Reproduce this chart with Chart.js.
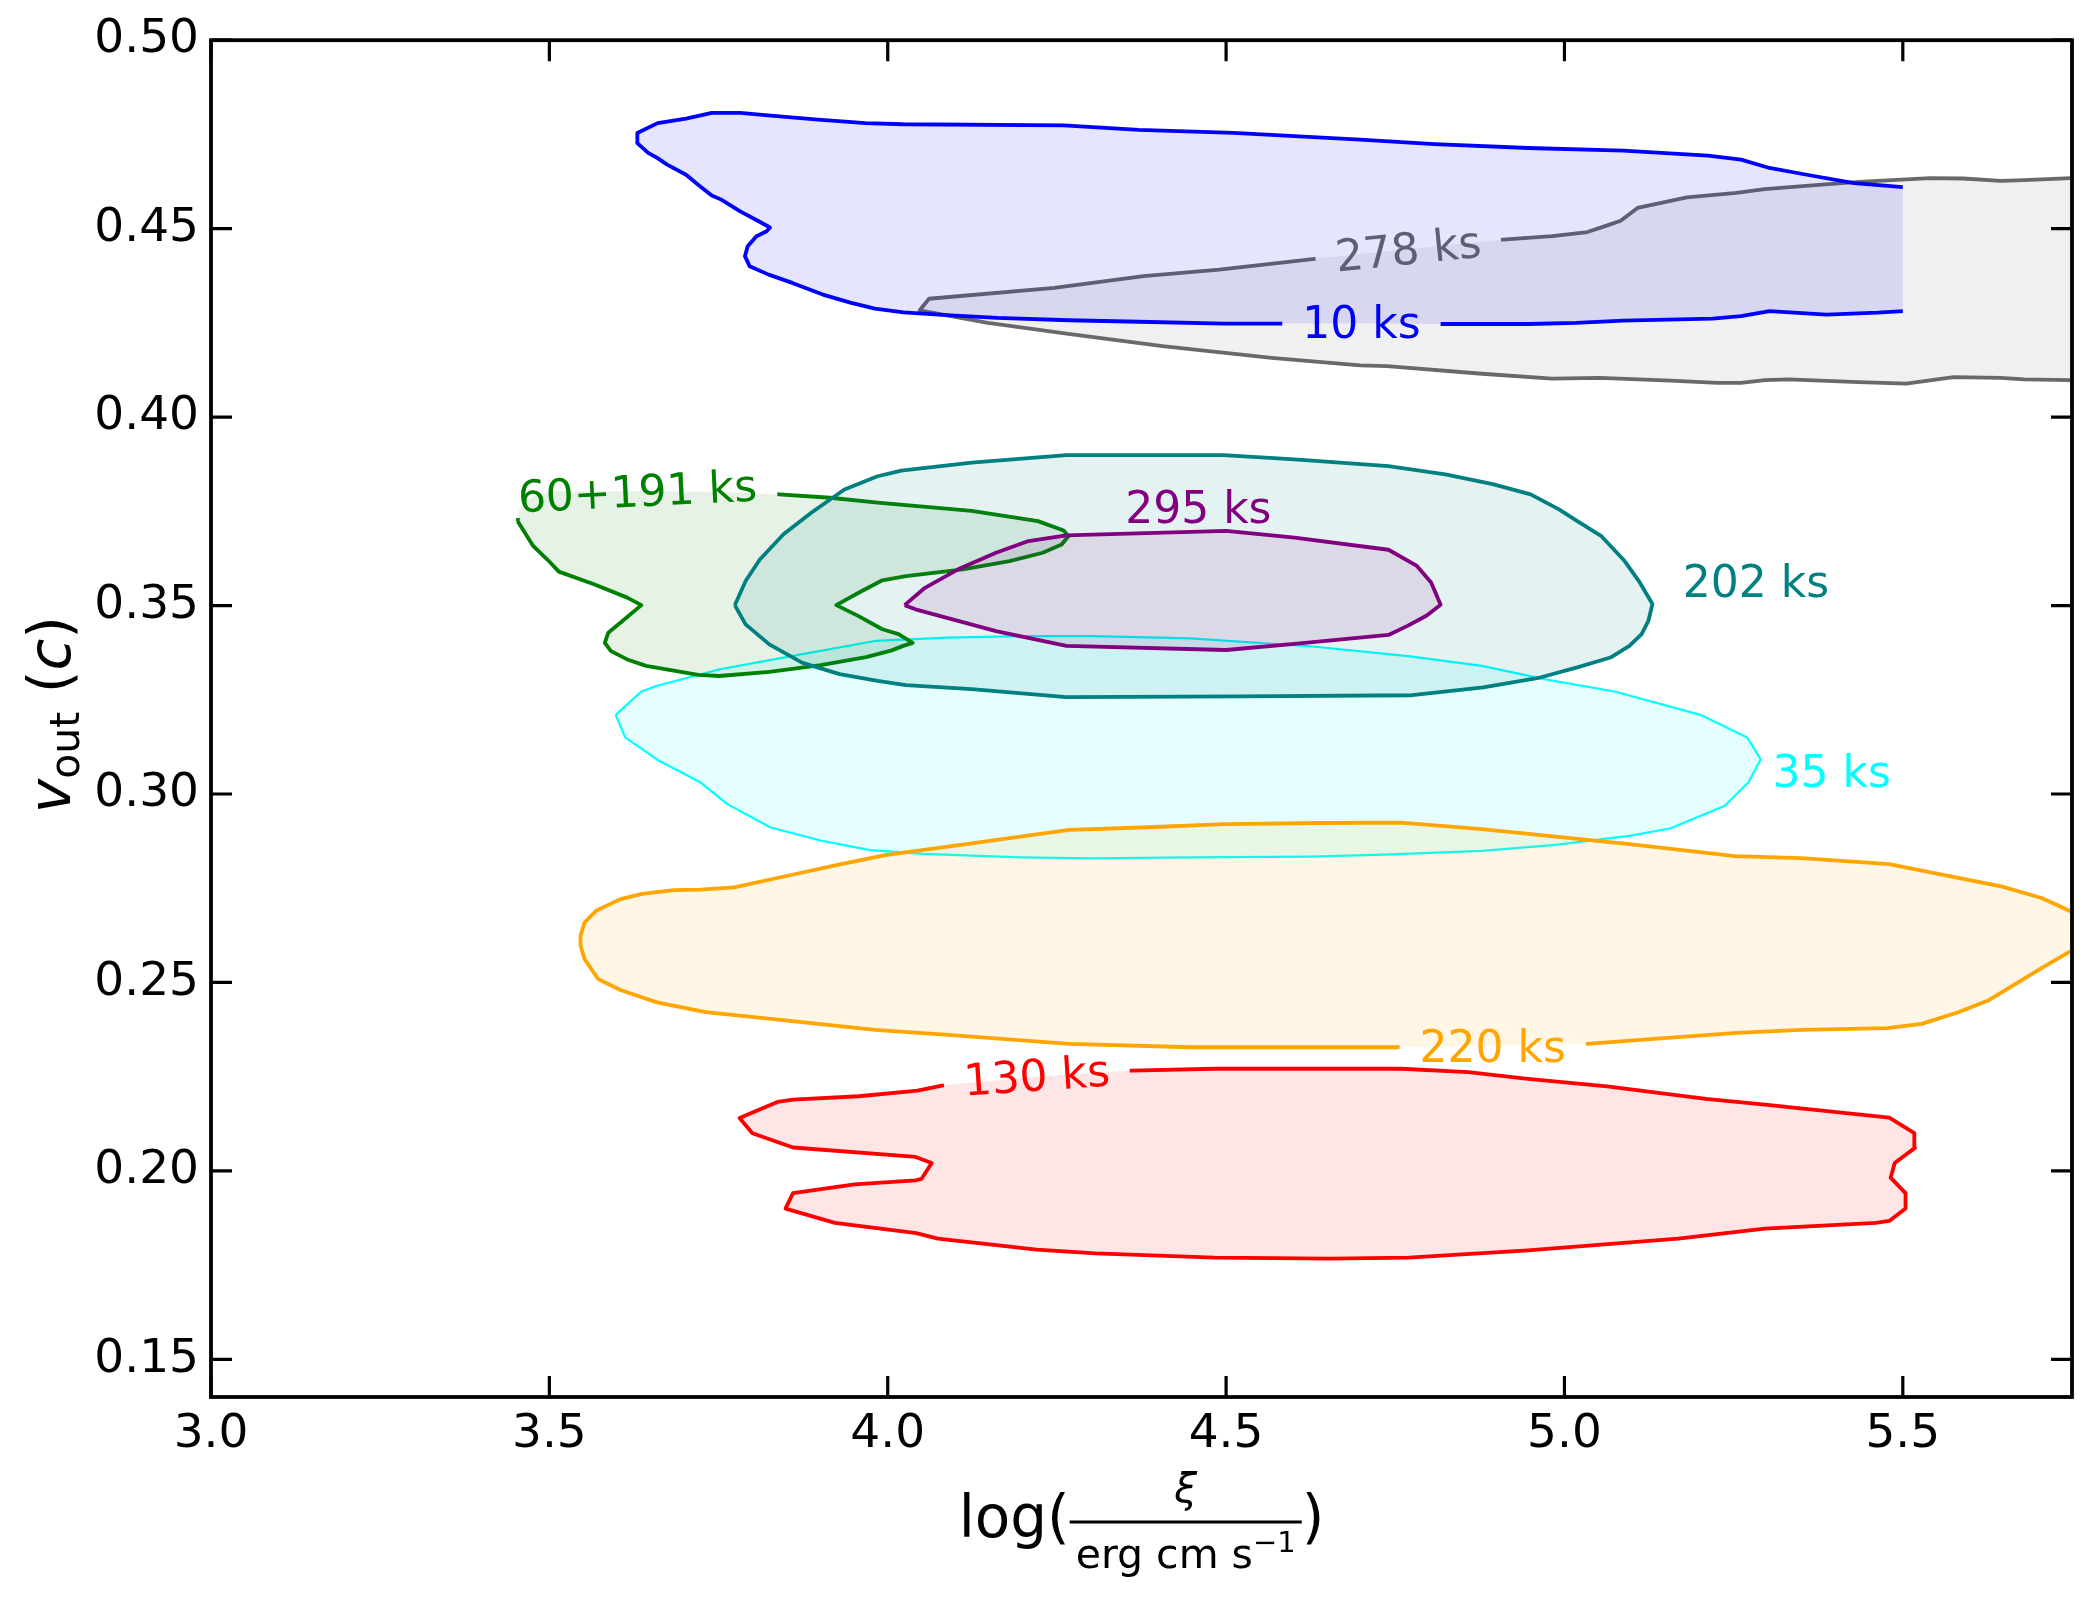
<!DOCTYPE html>
<html>
<head>
<meta charset="utf-8">
<script src="https://cdn.jsdelivr.net/npm/chart.js@4.4.1/dist/chart.umd.min.js"></script>
<style>
  html, body { margin: 0; padding: 0; background: #fff; overflow: hidden; }
  #wrap { width: 2092px; height: 1599px; }
</style>
</head>
<body>
<div id="wrap"><canvas id="contours"></canvas></div>
<script>
// axis ticks
const xTicks = [3.0, 3.5, 4.0, 4.5, 5.0, 5.5];
const yTicks = [0.15, 0.20, 0.25, 0.30, 0.35, 0.40, 0.45, 0.50];

// contour outlines, [log xi, v_out]
const ks278 = [[5.748,0.4634],[5.679,0.4629],[5.645,0.4627],[5.589,0.4633],[5.540,0.4634],[5.435,0.4624],[5.366,0.4615],[5.296,0.4605],[5.254,0.4595],[5.181,0.4583],[5.108,0.4555],[5.083,0.4521],[5.059,0.4506],[5.034,0.4491],[4.982,0.4480],[4.909,0.4471],[4.770,0.4446],[4.631,0.4420],[4.490,0.4391],[4.378,0.4374],[4.246,0.4343],[4.061,0.4314],[4.047,0.4283],[4.148,0.4250],[4.267,0.4221],[4.406,0.4188],[4.567,0.4157],[4.698,0.4137],[4.738,0.4135],[4.878,0.4115],[4.982,0.4102],[5.052,0.4104],[5.157,0.4097],[5.226,0.4091],[5.261,0.4091],[5.296,0.4098],[5.331,0.4100],[5.435,0.4093],[5.505,0.4089],[5.575,0.4106],[5.645,0.4104],[5.679,0.4100],[5.748,0.4098]];

const ks10 = [[5.500,0.4281],[5.463,0.4277],[5.387,0.4272],[5.303,0.4281],[5.261,0.4268],[5.219,0.4261],[5.087,0.4256],[5.017,0.4250],[4.947,0.4247],[4.822,0.4247],[4.700,0.4248],[4.580,0.4248],[4.497,0.4248],[4.371,0.4253],[4.267,0.4257],[4.162,0.4263],[4.093,0.4270],[4.023,0.4278],[3.981,0.4288],[3.946,0.4303],[3.904,0.4325],[3.859,0.4356],[3.824,0.4378],[3.796,0.4400],[3.789,0.4427],[3.793,0.4453],[3.806,0.4480],[3.821,0.4493],[3.826,0.4503],[3.810,0.4519],[3.782,0.4546],[3.754,0.4577],[3.740,0.4588],[3.723,0.4612],[3.702,0.4643],[3.674,0.4670],[3.660,0.4687],[3.646,0.4701],[3.630,0.4727],[3.630,0.4754],[3.660,0.4780],[3.702,0.4792],[3.740,0.4807],[3.782,0.4807],[3.827,0.4800],[3.897,0.4789],[3.967,0.4780],[4.023,0.4777],[4.260,0.4774],[4.371,0.4762],[4.511,0.4754],[4.698,0.4736],[4.808,0.4724],[4.947,0.4714],[5.087,0.4707],[5.212,0.4694],[5.261,0.4683],[5.303,0.4661],[5.352,0.4645],[5.428,0.4621],[5.500,0.4610]];

const ks35 = [[3.598,0.3210],[3.636,0.3272],[3.659,0.3287],[3.752,0.3331],[3.874,0.3371],[3.981,0.3406],[4.089,0.3415],[4.196,0.3419],[4.304,0.3419],[4.447,0.3413],[4.624,0.3392],[4.769,0.3366],[4.878,0.3340],[4.972,0.3304],[5.074,0.3272],[5.201,0.3210],[5.270,0.3150],[5.290,0.3092],[5.272,0.3031],[5.237,0.2969],[5.157,0.2909],[5.096,0.2889],[4.987,0.2865],[4.878,0.2849],[4.733,0.2839],[4.624,0.2834],[4.447,0.2832],[4.304,0.2829],[4.196,0.2832],[4.053,0.2841],[3.974,0.2851],[3.902,0.2876],[3.827,0.2911],[3.763,0.2973],[3.723,0.3031],[3.662,0.3088],[3.612,0.3150],[3.598,0.3210]];

const ks60191 = [[3.453,0.3724],[3.456,0.3759],[3.476,0.3790],[3.511,0.3803],[3.636,0.3803],[3.741,0.3802],[3.828,0.3796],[3.915,0.3786],[3.985,0.3773],[4.124,0.3751],[4.222,0.3724],[4.260,0.3699],[4.267,0.3684],[4.257,0.3662],[4.229,0.3640],[4.180,0.3618],[4.111,0.3596],[4.027,0.3578],[3.992,0.3567],[3.957,0.3534],[3.924,0.3501],[3.957,0.3472],[3.992,0.3437],[4.016,0.3424],[4.037,0.3401],[4.023,0.3393],[4.006,0.3381],[3.968,0.3363],[3.901,0.3342],[3.825,0.3324],[3.751,0.3313],[3.720,0.3316],[3.643,0.3340],[3.615,0.3357],[3.591,0.3379],[3.582,0.3401],[3.587,0.3428],[3.608,0.3459],[3.636,0.3501],[3.615,0.3521],[3.567,0.3556],[3.514,0.3590],[3.497,0.3622],[3.476,0.3658],[3.453,0.3724]];

const ks202 = [[3.774,0.3501],[3.790,0.3565],[3.811,0.3622],[3.846,0.3689],[3.887,0.3746],[3.936,0.3808],[3.985,0.3843],[4.020,0.3858],[4.124,0.3879],[4.264,0.3899],[4.496,0.3899],[4.601,0.3888],[4.740,0.3870],[4.824,0.3848],[4.894,0.3822],[4.950,0.3795],[4.992,0.3755],[5.019,0.3724],[5.054,0.3685],[5.089,0.3618],[5.110,0.3565],[5.130,0.3504],[5.124,0.3459],[5.114,0.3424],[5.096,0.3393],[5.068,0.3362],[5.019,0.3336],[4.964,0.3309],[4.880,0.3283],[4.775,0.3262],[4.521,0.3259],[4.264,0.3257],[4.124,0.3278],[4.027,0.3289],[3.985,0.3300],[3.929,0.3318],[3.874,0.3348],[3.825,0.3397],[3.790,0.3450],[3.774,0.3501]];

const ks295 = [[4.025,0.3501],[4.055,0.3547],[4.104,0.3596],[4.160,0.3640],[4.208,0.3671],[4.264,0.3686],[4.500,0.3698],[4.601,0.3680],[4.740,0.3648],[4.782,0.3605],[4.803,0.3561],[4.817,0.3502],[4.796,0.3473],[4.768,0.3446],[4.740,0.3422],[4.601,0.3398],[4.500,0.3382],[4.264,0.3393],[4.160,0.3432],[4.041,0.3490],[4.025,0.3501]];

const ks220 = [[5.748,0.2689],[5.705,0.2724],[5.647,0.2754],[5.567,0.2783],[5.480,0.2814],[5.350,0.2830],[5.252,0.2835],[5.096,0.2867],[4.987,0.2887],[4.878,0.2907],[4.758,0.2924],[4.639,0.2923],[4.497,0.2920],[4.375,0.2911],[4.268,0.2905],[4.124,0.2869],[3.996,0.2838],[3.924,0.2811],[3.852,0.2783],[3.773,0.2752],[3.723,0.2746],[3.684,0.2745],[3.637,0.2735],[3.605,0.2721],[3.569,0.2690],[3.552,0.2659],[3.546,0.2624],[3.546,0.2598],[3.552,0.2562],[3.572,0.2509],[3.605,0.2480],[3.659,0.2447],[3.731,0.2421],[3.838,0.2401],[3.981,0.2374],[4.089,0.2361],[4.268,0.2337],[4.447,0.2328],[4.639,0.2328],[4.755,0.2328],[4.894,0.2332],[5.034,0.2337],[5.132,0.2350],[5.255,0.2366],[5.350,0.2374],[5.477,0.2379],[5.528,0.2390],[5.582,0.2421],[5.626,0.2452],[5.705,0.2538],[5.748,0.2583]];

const ks130 = [[4.082,0.2227],[4.044,0.2213],[3.957,0.2198],[3.860,0.2189],[3.837,0.2183],[3.781,0.2140],[3.800,0.2100],[3.860,0.2062],[4.041,0.2037],[4.065,0.2021],[4.050,0.1979],[4.041,0.1975],[3.951,0.1964],[3.860,0.1941],[3.849,0.1900],[3.922,0.1862],[4.042,0.1835],[4.074,0.1820],[4.220,0.1791],[4.307,0.1781],[4.483,0.1770],[4.654,0.1767],[4.770,0.1770],[4.946,0.1789],[5.168,0.1820],[5.296,0.1847],[5.460,0.1862],[5.480,0.1867],[5.504,0.1900],[5.504,0.1941],[5.482,0.1982],[5.488,0.2021],[5.518,0.2061],[5.517,0.2100],[5.480,0.2141],[5.296,0.2176],[5.209,0.2191],[5.063,0.2224],[4.946,0.2244],[4.858,0.2262],[4.759,0.2271],[4.654,0.2271],[4.483,0.2271],[4.360,0.2266],[4.220,0.2250],[4.082,0.2227]];

// drawing order: first one at the bottom
const contours = [
  { points: ks278,   color: '#696969', fill: 'rgba(105,105,105,0.1)', width: 3.8,
    label: { text: '278 ks', x: 4.769, y: 0.4449, rot: -5.8, inline: true } },
  { points: ks10,    color: '#0000ff', fill: 'rgba(0,0,255,0.1)', width: 3.8,
    label: { text: '10 ks', x: 4.700, y: 0.4254, rot: 0, inline: true } },
  { points: ks35,    color: '#00ffff', fill: 'rgba(0,255,255,0.1)', width: 2.2,
    label: { text: '35 ks', x: 5.395, y: 0.3062, rot: 0, inline: false } },
  { points: ks60191, color: '#008000', fill: 'rgba(0,128,0,0.1)', width: 3.8,
    label: { text: '60+191 ks', x: 3.630, y: 0.3806, rot: -2.8, inline: true } },
  { points: ks202,   color: '#008080', fill: 'rgba(0,128,128,0.1)', width: 3.8,
    label: { text: '202 ks', x: 5.283, y: 0.3566, rot: 0, inline: false } },
  { points: ks295,   color: '#800080', fill: 'rgba(128,0,128,0.1)', width: 3.8,
    label: { text: '295 ks', x: 4.459, y: 0.3762, rot: 0, inline: false } },
  { points: ks220,   color: '#ffa500', fill: 'rgba(255,165,0,0.1)', width: 3.8,
    label: { text: '220 ks', x: 4.894, y: 0.2333, rot: 0, inline: true } },
  { points: ks130,   color: '#ff0000', fill: 'rgba(255,0,0,0.1)', width: 3.8,
    label: { text: '130 ks', x: 4.220, y: 0.2256, rot: -4, inline: true } },
];

const FONT = '"DejaVu Sans", sans-serif';
const LABEL_SIZE = 44;

function labelGeom(chart, lab) {
  const ctx = chart.ctx;
  ctx.save();
  ctx.font = LABEL_SIZE + 'px ' + FONT;
  const w = ctx.measureText(lab.text).width;
  ctx.restore();
  return {
    cx: chart.scales.x.getPixelForValue(lab.x),
    cy: chart.scales.y.getPixelForValue(lab.y),
    w: w,
    rot: lab.rot * Math.PI / 180
  };
}

// cut the contour line where its label sits, then write the label
const contourLabels = {
  id: 'contourLabels',
  beforeDatasetDraw(chart, args) {
    const ctx = chart.ctx;
    const c = contours[args.index];
    ctx.save();
    if (!c.label.inline) return;
    const g = labelGeom(chart, c.label);
    const hw = g.w / 2 + 20, hh = 22;
    const cos = Math.cos(g.rot), sin = Math.sin(g.rot);
    ctx.beginPath();
    ctx.rect(0, 0, chart.width, chart.height);
    [[-hw, -hh], [hw, -hh], [hw, hh], [-hw, hh]].forEach(([dx, dy], i) => {
      const px = g.cx + dx * cos - dy * sin;
      const py = g.cy + dx * sin + dy * cos;
      if (i === 0) ctx.moveTo(px, py); else ctx.lineTo(px, py);
    });
    ctx.closePath();
    ctx.clip('evenodd');
  },
  afterDatasetDraw(chart, args) {
    const ctx = chart.ctx;
    ctx.restore();
    const c = contours[args.index];
    const g = labelGeom(chart, c.label);
    ctx.save();
    ctx.translate(g.cx, g.cy);
    ctx.rotate(g.rot);
    ctx.font = LABEL_SIZE + 'px ' + FONT;
    ctx.fillStyle = c.color;
    ctx.textAlign = 'center';
    ctx.textBaseline = 'alphabetic';
    ctx.fillText(c.label.text, 0, 0.37 * LABEL_SIZE);
    ctx.restore();
  }
};

// box, inward ticks on all four sides, axis titles
const frameAndTitles = {
  id: 'frameAndTitles',
  afterDatasetsDraw(chart) {
    const ctx = chart.ctx;
    const a = chart.chartArea;
    const xs = chart.scales.x, ys = chart.scales.y;
    const tl = 21;
    ctx.save();
    ctx.strokeStyle = '#000';
    ctx.lineWidth = 3.2;
    ctx.beginPath();
    xTicks.forEach(v => {
      const px = xs.getPixelForValue(v);
      ctx.moveTo(px, a.bottom); ctx.lineTo(px, a.bottom - tl);
      ctx.moveTo(px, a.top); ctx.lineTo(px, a.top + tl);
    });
    yTicks.forEach(v => {
      const py = ys.getPixelForValue(v);
      ctx.moveTo(a.left, py); ctx.lineTo(a.left + tl, py);
      ctx.moveTo(a.right, py); ctx.lineTo(a.right - tl, py);
    });
    ctx.stroke();
    ctx.lineWidth = 3.8;
    ctx.strokeRect(a.left, a.top, a.right - a.left, a.bottom - a.top);
    ctx.restore();
  },
  afterDraw(chart) {
    const ctx = chart.ctx;
    const a = chart.chartArea;
    const big = 58, small = 41;
    const up = big + 'px ' + FONT, it = 'italic ' + big + 'px ' + FONT;
    const upS = small + 'px ' + FONT, itS = 'italic ' + small + 'px ' + FONT;
    ctx.save();
    ctx.fillStyle = '#000';
    ctx.textBaseline = 'alphabetic';
    ctx.textAlign = 'left';

    // y title: v_out (c)
    const parts = [
      { t: 'v', f: it, dy: 0 },
      { t: 'out', f: upS, dy: 9 },
      { t: ' ', f: up, dy: 0 },
      { t: '(', f: up, dy: 0 },
      { t: 'c', f: it, dy: 0 },
      { t: ')', f: up, dy: 0 }
    ];
    let total = 0;
    parts.forEach(p => { ctx.font = p.f; p.w = ctx.measureText(p.t).width; total += p.w; });
    ctx.save();
    ctx.translate(70, (a.top + a.bottom) / 2 - 4);
    ctx.rotate(-Math.PI / 2);
    let x = -total / 2;
    parts.forEach(p => { ctx.font = p.f; ctx.fillText(p.t, x, p.dy); x += p.w; });
    ctx.restore();

    // x title: log(xi / erg cm s^-1)
    const barY = 1522;
    ctx.font = up;
    const wLog = ctx.measureText('log(').width;
    const wClose = ctx.measureText(')').width;
    ctx.font = upS;
    const wDen = ctx.measureText('erg cm s').width;
    ctx.font = '29px ' + FONT;
    const wSup = ctx.measureText('\u22121').width;
    const barW = wDen + wSup + 12;
    const cx = (a.left + a.right) / 2;
    const x0 = cx - (wLog + barW + wClose) / 2;
    ctx.font = up;
    ctx.fillText('log(', x0, barY + 15);
    const bx = x0 + wLog;
    ctx.fillRect(bx, barY - 1.5, barW, 3);
    ctx.font = itS;
    ctx.textAlign = 'center';
    ctx.fillText('\u03be', bx + barW / 2, barY - 20);
    ctx.textAlign = 'left';
    ctx.font = upS;
    ctx.fillText('erg cm s', bx + 6, barY + 46);
    ctx.font = '29px ' + FONT;
    ctx.fillText('\u22121', bx + 6 + wDen, barY + 30);
    ctx.font = up;
    ctx.fillText(')', bx + barW, barY + 15);
    ctx.restore();
  }
};

const datasets = contours.map((c, i) => ({
  data: c.points.map(p => ({ x: p[0], y: p[1] })),
  borderColor: c.color,
  borderWidth: c.width,
  backgroundColor: c.fill,
  fill: 'shape',
  tension: 0,
  pointRadius: 0,
  borderJoinStyle: 'round',
  order: -i
}));

new Chart(document.getElementById('contours'), {
  type: 'line',
  data: { datasets },
  options: {
    responsive: true,
    maintainAspectRatio: false,
    devicePixelRatio: 1,
    animation: false,
    events: [],
    layout: { padding: { left: 0, top: 39, right: 20, bottom: 0 } },
    plugins: { legend: { display: false }, tooltip: { enabled: false }, title: { display: false } },
    scales: {
      x: {
        type: 'linear',
        min: 3.0,
        max: 5.75,
        grid: { display: false, drawTicks: false },
        border: { display: false },
        afterBuildTicks: s => { s.ticks = xTicks.map(v => ({ value: v })); },
        afterFit: s => { s.height = 202; },
        ticks: {
          padding: 10,
          color: '#000',
          font: { family: 'DejaVu Sans', size: 47 },
          maxRotation: 0,
          callback: v => v.toFixed(1)
        }
      },
      y: {
        type: 'linear',
        min: 0.14,
        max: 0.50,
        grid: { display: false, drawTicks: false },
        border: { display: false },
        afterBuildTicks: s => { s.ticks = yTicks.map(v => ({ value: v })); },
        afterFit: s => { s.width = 211; },
        ticks: {
          padding: 12,
          color: '#000',
          font: { family: 'DejaVu Sans', size: 47 },
          callback: v => v.toFixed(2)
        }
      }
    }
  },
  plugins: [contourLabels, frameAndTitles]
});
</script>
</body>
</html>
